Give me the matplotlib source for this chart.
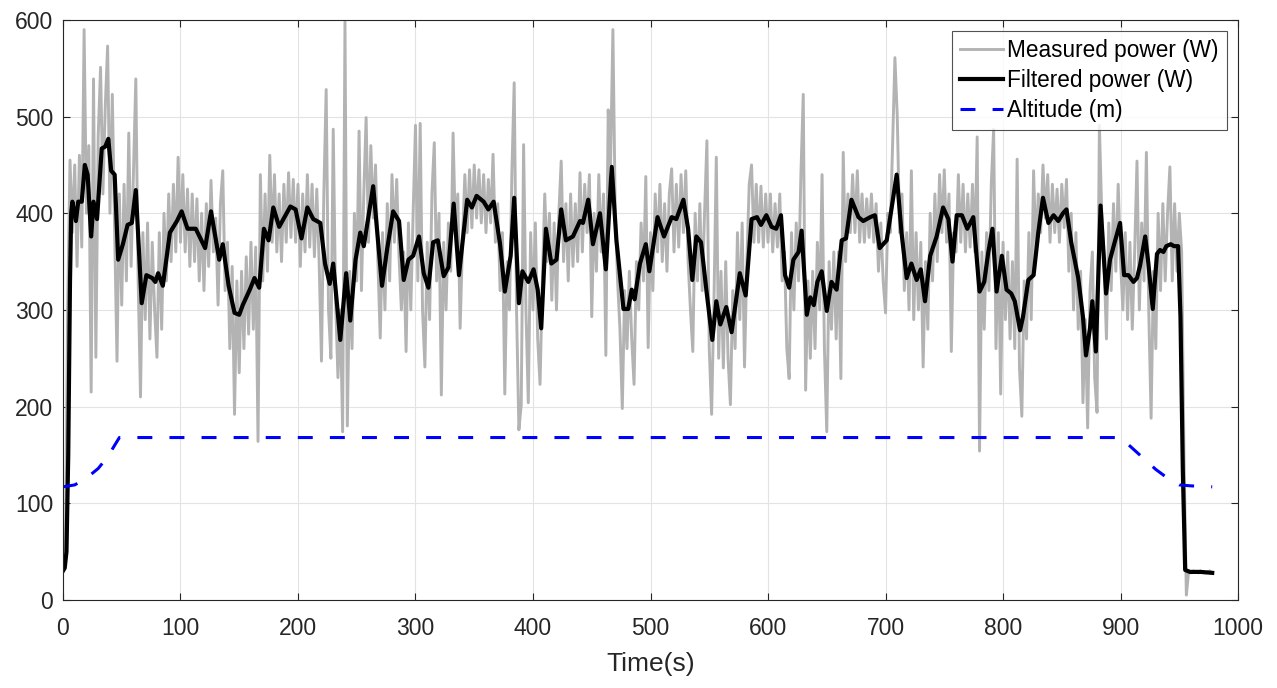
import numpy as np
import matplotlib
matplotlib.use("Agg")
import matplotlib.pyplot as plt

plt.rcParams['font.family'] = ['Liberation Sans', 'DejaVu Sans']

# measured power, one sample every 2 s from t = 0 to 978 s
measured = [
    30, 40, 300, 455, 380, 450, 345, 460, 365, 590,
    400, 470, 215, 539, 251, 480, 551, 420, 510, 573,
    400, 523, 380, 247, 420, 305, 430, 330, 483, 345,
    440, 539, 330, 210, 380, 290, 390, 270, 370, 300,
    251, 380, 280, 400, 330, 420, 350, 430, 360, 458,
    370, 440, 360, 425, 345, 420, 350, 415, 330, 400,
    320, 410, 345, 434, 360, 395, 305, 410, 444, 320,
    370, 260, 345, 192, 330, 235, 340, 260, 355, 275,
    370, 280, 365, 164, 440, 330, 420, 340, 460, 370,
    440, 360, 420, 350, 430, 370, 442, 375, 435, 370,
    430, 345, 420, 360, 440, 365, 430, 355, 425, 350,
    247, 420, 528, 300, 250, 487, 310, 230, 300, 174,
    598, 180, 340, 260, 400, 330, 485, 320, 420, 499,
    370, 470, 395, 450, 350, 271, 380, 300, 410, 330,
    440, 370, 435, 355, 300, 360, 257, 390, 300, 400,
    491, 330, 493, 300, 241, 370, 290, 420, 473, 330,
    400, 212, 370, 300, 390, 340, 483, 380, 420, 281,
    370, 440, 380, 445, 385, 450, 395, 445, 390, 440,
    380, 435, 390, 461, 370, 410, 320, 380, 213, 350,
    300, 440, 535, 300, 176, 202, 471, 300, 204, 380,
    300, 390, 270, 223, 330, 420, 350, 400, 310, 390,
    300, 400, 454, 350, 410, 330, 420, 345, 410, 350,
    442, 360, 430, 380, 440, 293, 400, 340, 440, 360,
    420, 253, 507, 450, 590, 400, 330, 280, 198, 320,
    260, 340, 270, 223, 350, 300, 390, 330, 438, 261,
    380, 320, 420, 360, 430, 350, 410, 340, 420, 446,
    360, 430, 365, 440, 380, 444, 350, 300, 257, 400,
    330, 410, 320, 400, 475, 260, 192, 310, 458, 250,
    340, 240, 350, 250, 202, 320, 260, 380, 290, 390,
    241, 350, 430, 450, 370, 430, 370, 428, 365, 420,
    370, 420, 360, 410, 365, 420, 330, 360, 260, 229,
    380, 300, 390, 330, 440, 523, 217, 330, 250, 340,
    260, 370, 300, 440, 260, 174, 350, 280, 360, 270,
    360, 229, 463, 350, 420, 380, 440, 380, 444, 370,
    420, 370, 415, 375, 420, 370, 410, 340, 390, 330,
    297, 400, 380, 470, 561, 500, 380, 420, 320, 380,
    300, 444, 290, 380, 300, 370, 241, 350, 280, 400,
    330, 420, 350, 440, 380, 445, 370, 420, 257, 380,
    360, 440, 370, 430, 360, 420, 365, 430, 360, 479,
    154, 360, 280, 380, 320, 430, 487, 260, 380, 213,
    370, 290, 360, 270, 350, 260, 456, 240, 190, 330,
    270, 380, 290, 444, 360, 420, 380, 450, 395, 440,
    370, 430, 380, 425, 370, 430, 385, 435, 340, 400,
    300, 380, 280, 340, 204, 290, 178, 320, 360, 230,
    194, 491, 400, 350, 270, 390, 320, 410, 340, 430,
    350, 300, 380, 290, 370, 280, 360, 454, 300, 390,
    330, 463, 300, 188, 340, 260, 400, 320, 410, 330,
    400, 448, 330, 410, 340, 400, 360, 150, 5, 30,
    28, 30, 29, 28, 30, 29, 28, 29, 30, 28,
]
measured_t = np.arange(0, 2 * len(measured), 2)

filtered_t = [
    0, 1.5, 3, 4.5, 6, 7, 8, 11, 13, 16, 18.6, 21, 24, 26, 29, 33, 36, 38.6, 41, 44,
    47, 51, 55, 58.6, 62, 67, 71, 76, 78.6, 81, 85, 91, 97, 101, 106, 113, 121, 126,
    133, 136, 141, 146, 150, 153, 159, 163, 167, 171, 175, 179, 184, 193.5, 198, 203,
    208, 213, 219, 223, 227, 230, 236, 241, 244.5, 249, 253, 256, 264, 271.5, 276, 281,
    286, 290, 294, 298, 303, 307, 311, 315, 319, 324, 328, 332.5, 337, 344, 348, 352,
    358, 362, 366.5, 372, 376, 381, 384, 388, 391, 396, 400.5, 404, 407, 411, 415.6,
    420, 424, 428, 434, 440, 442.5, 447, 451, 457, 462, 467, 471, 477, 481, 484, 486.5,
    491, 496, 499, 502, 506, 511.5, 518, 522, 528, 532, 535.6, 539, 543, 547.5, 552.6,
    556, 559.4, 564.5, 569, 576, 581, 586, 590.6, 594, 598.6, 603, 607, 611, 614.5, 618,
    621.6, 626, 628.6, 633, 636, 639, 642, 645.7, 650, 654, 658.4, 662.7, 666.4, 671,
    677, 681, 687, 691, 695, 701, 705, 709.5, 713.6, 718, 722, 726.5, 730, 733.6, 738,
    743.5, 749, 753.5, 757, 760.6, 765, 769.6, 774.7, 780, 784, 787.5, 791, 794.5, 799,
    803, 807, 810, 814.5, 817, 821.5, 826, 830, 834, 838.6, 843, 847, 851, 854, 858,
    864, 868, 870.6, 874, 876, 879, 883, 887.7, 891, 895, 899.6, 903, 906.7, 911, 914,
    916.6, 921, 923.7, 927.4, 931, 933.6, 936.5, 939, 942.7, 945.5, 949, 951, 953, 955,
    959, 968, 978,
]
filtered = [
    30, 33, 50, 150, 330, 400, 412, 392, 412, 412, 450, 440, 376, 412, 394, 467, 469, 477, 444, 440,
    352, 368, 388, 390, 424, 307, 336, 333, 329, 338, 325, 380, 392, 402, 384, 384, 364, 402,
    352, 368, 325, 297, 295, 305, 321, 333, 323, 384, 372, 406, 386, 407, 404, 374,
    406, 394, 390, 348, 327, 348, 269, 338, 289, 352, 380, 366, 428, 325, 364, 402,
    392, 331, 352, 356, 376, 338, 323, 370, 372, 335, 344, 410, 336, 414, 406, 418,
    412, 404, 412, 368, 319, 356, 416, 307, 340, 329, 342, 321, 281, 384, 348,
    352, 404, 372, 376, 392, 390, 414, 368, 400, 342, 448, 372, 301, 301, 321, 311,
    348, 368, 340, 364, 396, 376, 396, 394, 414, 384, 331, 376, 370, 321, 269,
    309, 285, 303, 277, 338, 315, 394, 396, 388, 398, 386, 384, 398, 336, 323,
    352, 360, 382, 295, 313, 305, 329, 340, 299, 329, 321, 372, 374, 414,
    396, 392, 396, 398, 364, 372, 404, 440, 380, 333, 348, 331, 342, 309, 356,
    376, 406, 394, 350, 398, 398, 384, 396, 319, 329, 360, 384, 319, 356,
    321, 317, 309, 279, 293, 331, 336, 380, 416, 390, 398, 392, 400, 404, 370,
    333, 293, 253, 281, 309, 257, 408, 317, 352, 370, 390, 336, 336, 329, 333,
    346, 376, 348, 301, 358, 362, 360, 366, 368, 366, 366, 293, 134, 31,
    29, 29, 28,
]

altitude_t = [0, 10, 20, 30, 38, 44, 48, 900, 910, 920, 930, 940, 950, 960, 978]
altitude = [117, 119, 126, 136, 148, 160, 168, 168, 157, 146, 135, 126, 119, 118, 117]

fig = plt.figure(figsize=(12.77, 6.88), dpi=100)
ax = fig.add_axes([0.0493, 0.128, 0.9202, 0.843])

ax.plot(measured_t, measured, color='#b3b3b3', lw=2.1, label='Measured power (W)')
ax.plot(filtered_t, filtered, color='black', lw=3.0, label='Filtered power (W)')
ax.plot(altitude_t, altitude, color='#0000ff', lw=2.2, ls=(0, (4.9, 5.6)), label='Altitude (m)')

ax.set_xlim(0, 1000)
ax.set_ylim(0, 600)
ax.set_xticks(np.arange(0, 1001, 100))
ax.set_yticks(np.arange(0, 601, 100))
ax.grid(True, color='#e3e3e3', lw=0.8)
ax.set_axisbelow(True)
ax.tick_params(direction='in', length=5, top=True, right=True, labelsize=16.5,
               colors='#262626')
ax.tick_params(axis='x', pad=12)
ax.tick_params(axis='y', pad=7)
for s in ax.spines.values():
    s.set_color('#262626')
    s.set_linewidth(0.8)
ax.set_xlabel('Time(s)', fontsize=19, color='#262626', labelpad=9)

leg = ax.legend(loc='upper right', fontsize=16.3, handlelength=1.9, frameon=True,
                fancybox=False, edgecolor='#262626', borderaxespad=0.5,
                labelspacing=0.3, handletextpad=0.2, borderpad=0.35)
leg.get_frame().set_linewidth(0.8)

fig.savefig('out.png', dpi=100)
